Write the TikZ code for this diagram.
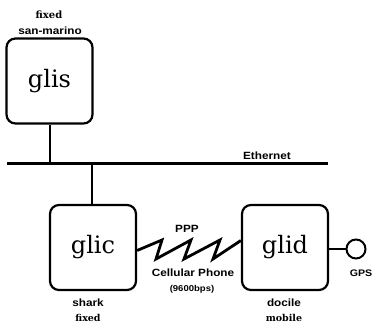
\documentclass[tikz,border=0pt]{standalone}
\usepackage{fontspec}
\setmainfont{DejaVu Serif}
\newfontfamily\labsans[FakeStretch=1.12]{Liberation Sans Bold}
\usetikzlibrary{calc}
\tikzset{
  host/.style={draw, line width=2.2pt, rounded corners=9pt, minimum width=86pt, minimum height=85pt, inner sep=0pt, font=\fontsize{24}{26}\selectfont},
  conn/.style={line width=2pt},
  bus/.style={line width=3.4pt},
  sanslab/.style={font=\labsans\fontsize{10.5}{12}\selectfont, inner sep=0pt},
  seriflab/.style={font=\bfseries\fontsize{9.5}{11}\selectfont, inner sep=0pt},
}
\begin{document}
\begin{tikzpicture}[x=1pt, y=-1pt]
\useasboundingbox (0,0) rectangle (373,323);
% hosts
\node[host] (glis) at (49.5,81) {glis};
\node[host] (glic) at (93,247.5) {glic};
\node[host] (glid) at (285,247.5) {glid};
% labels
\node[seriflab, font=\bfseries\fontsize{10}{12}\selectfont] (t1) at (49,15) {fixed};
\node[sanslab] (t2) at (50,31) {san-marino};
\node[sanslab] (eth) at (267,156) {Ethernet};
\node[sanslab] (ppp) at (187,229) {PPP};
\node[sanslab] (cell) at (193,273) {Cellular Phone};
\node[sanslab, font=\labsans\fontsize{8.5}{10}\selectfont] (bps) at (192,289) {(9600bps)};
\node[sanslab] (shark) at (88,303) {shark};
\node[seriflab] (fx) at (88,318) {fixed};
\node[sanslab] (docile) at (284,303) {docile};
\node[seriflab] (mobile) at (284,318) {mobile};
\node[sanslab, font=\labsans\fontsize{9.5}{11}\selectfont] (gpsl) at (361,273) {GPS};
% ethernet
\coordinate (eL) at (7,163.5);
\coordinate (eR) at (328,163.5);
\coordinate (e1) at (50,163.5);
\coordinate (e2) at (92,163.5);
\draw[bus] (eL) -- (eR);
\draw[conn] (glis.south -| e1) -- (e1);
\draw[conn] (e2) -- (e2 |- glic.north);
% zigzag
\coordinate (z1) at (162,240);
\coordinate (z2) at (156,259);
\coordinate (z3) at (191,240);
\coordinate (z4) at (184,259);
\coordinate (z5) at (220,240);
\coordinate (z6) at (213,259);
\draw[line width=2.8pt, line join=miter] ($(glic.east)+(0,3)$) -- (z1) -- (z2) -- (z3) -- (z4) -- (z5) -- (z6) -- ($(glid.west)+(0,-7)$);
% GPS
\node[draw, circle, line width=2pt, minimum size=19pt, inner sep=0pt] (gps) at (356,249) {};
\draw[conn] (glid.east |- gps) -- (gps.west);
\end{tikzpicture}
\end{document}
